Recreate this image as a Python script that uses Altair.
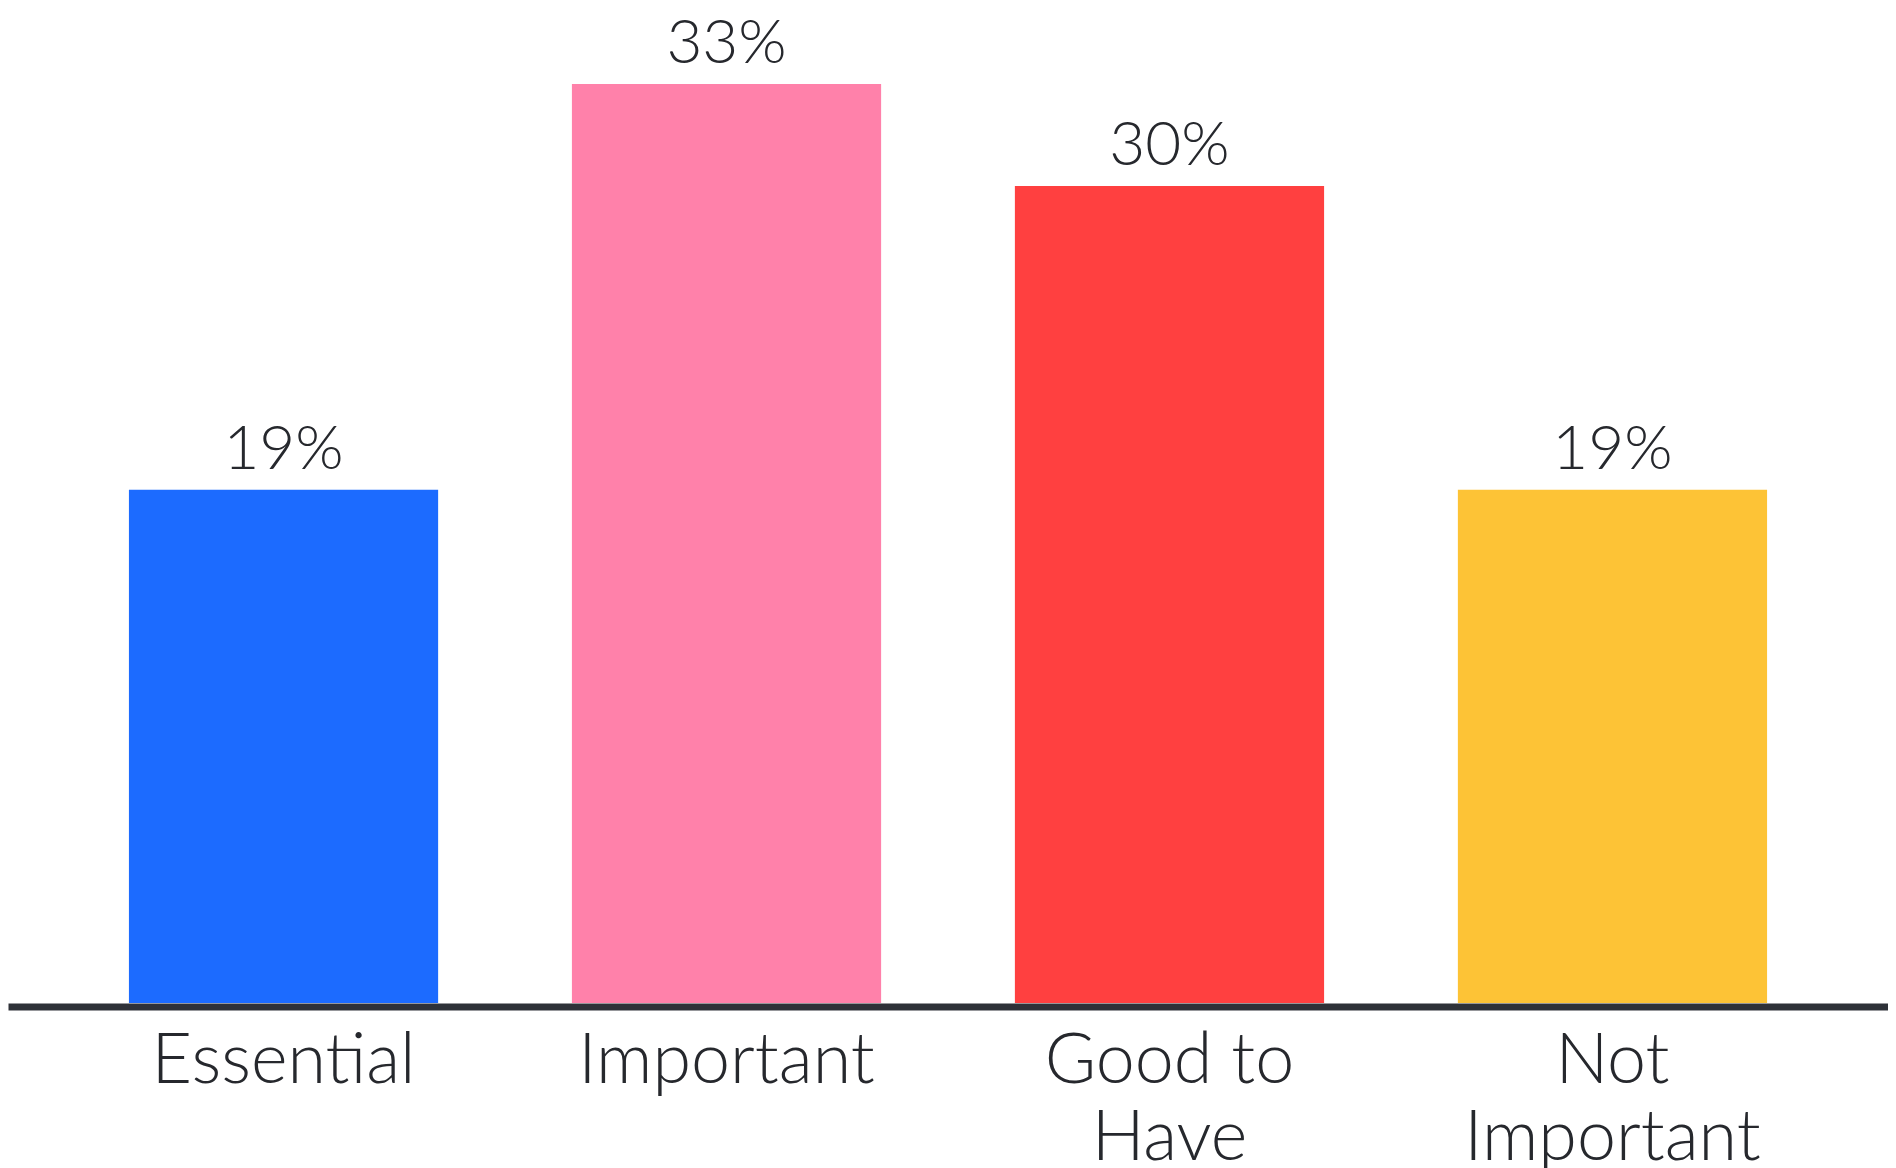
import altair as alt
import pandas as pd

categories = ["Essential", "Important", "Good to\nHave", "Not\nImportant"]
values = [18.6, 33.3, 29.6, 18.6]
labels = ["19%", "33%", "30%", "19%"]
colors = ["#1c6bff", "#ff81aa", "#ff4040", "#fdc336"]

df = pd.DataFrame({"category": categories, "value": values, "label": labels})

x = alt.X(
    "category:N",
    sort=categories,
    scale=alt.Scale(paddingInner=0.302, paddingOuter=0.273),
    axis=alt.Axis(
        title=None,
        labelAngle=0,
        labelExpr="split(datum.label, '\\n')",
        labelFont="Lato",
        labelFontSize=70,
        labelFontWeight=300,
        labelColor="#26282d",
        labelLineHeight=77,
        labelPadding=21,
        labelBaseline="top",
        labelLimit=0,
        ticks=False,
        tickSize=0,
        domain=True,
        domainColor="#2e3138",
        domainWidth=7,
        offset=3.5,
        grid=False,
    ),
)
y = alt.Y(
    "value:Q",
    scale=alt.Scale(domain=[0, 36.05], nice=False, zero=True),
    axis=None,
)

bars = alt.Chart(df).mark_bar().encode(
    x=x,
    y=y,
    color=alt.Color("category:N", sort=categories,
                    scale=alt.Scale(domain=categories, range=colors), legend=None),
)

text = alt.Chart(df).mark_text(
    font="Lato", fontSize=62, fontWeight=300, color="#26282d",
    baseline="alphabetic", dy=-21
).encode(x=x, y=y, text="label:N")

chart = (bars + text).properties(
    width=1880, height=995,
    background="white",
    autosize=alt.AutoSizeParams(type="none"),
    padding={"left": 0, "right": 0, "top": 0, "bottom": 165},
).configure_view(strokeWidth=0, stroke="transparent")

chart.save("out.html", embed_options={"renderer": "svg", "actions": False})
